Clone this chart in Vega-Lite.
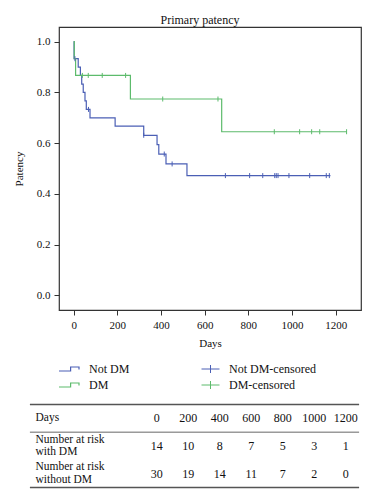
{
  "$schema": "https://vega.github.io/schema/vega-lite/v6.json",
  "padding": {"left": 12, "top": 13, "right": 0, "bottom": 0},
  "background": "white",
  "bounds": "flush",
  "spacing": 94.5,
  "config": {
    "font": "Liberation Serif",
    "view": {"stroke": null},
    "axis": {"labelFont": "Liberation Serif", "titleFont": "Liberation Serif", "labelColor": "#111", "titleColor": "#111", "titleFontWeight": "normal", "labelFontSize": 11, "titleFontSize": 11, "grid": false, "domain": false, "tickColor": "#333", "tickSize": 5},
    "legend": {"labelFont": "Liberation Serif", "labelFontSize": 12, "labelColor": "#111", "padding": 0, "offset": 0},
    "title": {"font": "Liberation Serif", "fontWeight": "normal", "fontSize": 12, "color": "#111"}
  },
  "datasets": {
    "km": [
      {"group": "Not DM", "day": 0, "surv": 1.0},
      {"group": "Not DM", "day": 2, "surv": 0.933},
      {"group": "Not DM", "day": 21, "surv": 0.9},
      {"group": "Not DM", "day": 31, "surv": 0.867},
      {"group": "Not DM", "day": 37, "surv": 0.833},
      {"group": "Not DM", "day": 44, "surv": 0.8},
      {"group": "Not DM", "day": 52, "surv": 0.767},
      {"group": "Not DM", "day": 58, "surv": 0.733},
      {"group": "Not DM", "day": 75, "surv": 0.70},
      {"group": "Not DM", "day": 190, "surv": 0.667},
      {"group": "Not DM", "day": 321, "surv": 0.631},
      {"group": "Not DM", "day": 382, "surv": 0.594},
      {"group": "Not DM", "day": 390, "surv": 0.557},
      {"group": "Not DM", "day": 423, "surv": 0.518},
      {"group": "Not DM", "day": 519, "surv": 0.472},
      {"group": "Not DM", "day": 1176, "surv": 0.472},
      {"group": "DM", "day": 0, "surv": 1.0},
      {"group": "DM", "day": 3, "surv": 0.933},
      {"group": "DM", "day": 9, "surv": 0.867},
      {"group": "DM", "day": 260, "surv": 0.774},
      {"group": "DM", "day": 678, "surv": 0.645},
      {"group": "DM", "day": 1252, "surv": 0.645}
    ],
    "cens": [
      {"cgroup": "Not DM-censored", "day": 6, "surv": 0.933},
      {"cgroup": "Not DM-censored", "day": 68, "surv": 0.733},
      {"cgroup": "Not DM-censored", "day": 321, "surv": 0.631},
      {"cgroup": "Not DM-censored", "day": 415, "surv": 0.557},
      {"cgroup": "Not DM-censored", "day": 451, "surv": 0.518},
      {"cgroup": "Not DM-censored", "day": 695, "surv": 0.472},
      {"cgroup": "Not DM-censored", "day": 806, "surv": 0.472},
      {"cgroup": "Not DM-censored", "day": 866, "surv": 0.472},
      {"cgroup": "Not DM-censored", "day": 921, "surv": 0.472},
      {"cgroup": "Not DM-censored", "day": 928, "surv": 0.472},
      {"cgroup": "Not DM-censored", "day": 936, "surv": 0.472},
      {"cgroup": "Not DM-censored", "day": 986, "surv": 0.472},
      {"cgroup": "Not DM-censored", "day": 1081, "surv": 0.472},
      {"cgroup": "Not DM-censored", "day": 1157, "surv": 0.472},
      {"cgroup": "Not DM-censored", "day": 1171, "surv": 0.472},
      {"cgroup": "DM-censored", "day": 40, "surv": 0.867},
      {"cgroup": "DM-censored", "day": 67, "surv": 0.867},
      {"cgroup": "DM-censored", "day": 131, "surv": 0.867},
      {"cgroup": "DM-censored", "day": 238, "surv": 0.867},
      {"cgroup": "DM-censored", "day": 408, "surv": 0.774},
      {"cgroup": "DM-censored", "day": 661, "surv": 0.774},
      {"cgroup": "DM-censored", "day": 919, "surv": 0.645},
      {"cgroup": "DM-censored", "day": 1035, "surv": 0.645},
      {"cgroup": "DM-censored", "day": 1090, "surv": 0.645},
      {"cgroup": "DM-censored", "day": 1127, "surv": 0.645},
      {"cgroup": "DM-censored", "day": 1250, "surv": 0.645}
    ],
    "table": [
      {"row": "Days", "day": 0, "val": "0"},
      {"row": "Days", "day": 200, "val": "200"},
      {"row": "Days", "day": 400, "val": "400"},
      {"row": "Days", "day": 600, "val": "600"},
      {"row": "Days", "day": 800, "val": "800"},
      {"row": "Days", "day": 1000, "val": "1000"},
      {"row": "Days", "day": 1200, "val": "1200"},
      {"row": "Number at risk|with DM", "day": 0, "val": "14"},
      {"row": "Number at risk|with DM", "day": 200, "val": "10"},
      {"row": "Number at risk|with DM", "day": 400, "val": "8"},
      {"row": "Number at risk|with DM", "day": 600, "val": "7"},
      {"row": "Number at risk|with DM", "day": 800, "val": "5"},
      {"row": "Number at risk|with DM", "day": 1000, "val": "3"},
      {"row": "Number at risk|with DM", "day": 1200, "val": "1"},
      {"row": "Number at risk|without DM", "day": 0, "val": "30"},
      {"row": "Number at risk|without DM", "day": 200, "val": "19"},
      {"row": "Number at risk|without DM", "day": 400, "val": "14"},
      {"row": "Number at risk|without DM", "day": 600, "val": "11"},
      {"row": "Number at risk|without DM", "day": 800, "val": "7"},
      {"row": "Number at risk|without DM", "day": 1000, "val": "2"},
      {"row": "Number at risk|without DM", "day": 1200, "val": "0"}
    ],
    "rules": [
      {"row": "Days", "kind": "top"},
      {"row": "Number at risk|with DM", "kind": "mid"},
      {"row": "Number at risk|without DM", "kind": "bottom"}
    ]
  },
  "vconcat": [
    {
      "width": 302,
      "height": 283,
      "title": {"text": "Primary patency", "offset": 0, "dx": -10},
      "view": {"stroke": "#333", "strokeWidth": 1.2},
      "layer": [
        {
          "data": {"name": "km"},
          "mark": {"type": "line", "interpolate": "step-after", "strokeWidth": 1.2},
          "encoding": {
            "x": {"field": "day", "type": "quantitative", "scale": {"domain": [-67, 1316], "nice": false, "zero": false},
                  "axis": {"values": [0, 200, 400, 600, 800, 1000, 1200], "format": "d", "title": "Days", "labelPadding": 4, "titlePadding": 7}},
            "y": {"field": "surv", "type": "quantitative", "scale": {"domain": [-0.058, 1.058], "nice": false, "zero": false},
                  "axis": {"values": [0, 0.2, 0.4, 0.6, 0.8, 1.0], "format": ".1f", "title": "Patency", "labelPadding": 4, "titlePadding": 12}},
            "stroke": {"field": "group", "type": "nominal",
                       "scale": {"domain": ["Not DM", "DM"], "range": ["#4b5fb5", "#5dbb6c"]},
                       "legend": {"orient": "none", "legendX": 4, "legendY": 336, "title": null,
                                  "symbolType": "M-2.5,0.5H0.4V-0.5H2.5V0.1", "symbolSize": 64, "symbolStrokeWidth": 1.2,
                                  "labelOffset": 14, "rowPadding": 4}}
          }
        },
        {
          "data": {"name": "cens"},
          "mark": {"type": "point", "shape": "M0,-1V1", "size": 25, "filled": false, "strokeWidth": 1, "opacity": 1},
          "encoding": {
            "x": {"field": "day", "type": "quantitative"},
            "y": {"field": "surv", "type": "quantitative"},
            "color": {"field": "cgroup", "type": "nominal",
                      "scale": {"domain": ["Not DM-censored", "DM-censored"], "range": ["#4b5fb5", "#5dbb6c"]},
                      "legend": {"orient": "none", "legendX": 145.5, "legendY": 336, "title": null,
                                 "symbolType": "M-2.25,0H2.25M0,-1V1", "symbolSize": 64, "symbolStrokeWidth": 1,
                                 "labelOffset": 12.5, "rowPadding": 4}}
          }
        }
      ]
    },
    {
      "width": 300,
      "height": 83,
      "layer": [
        {
          "data": {"name": "table"},
          "mark": {"type": "text", "fontSize": 12, "color": "#111", "align": "center", "baseline": "middle"},
          "encoding": {
            "x": {"field": "day", "type": "quantitative", "scale": {"domain": [-620.3, 1284.4], "nice": false, "zero": false}, "axis": null},
            "y": {"field": "row", "type": "nominal",
                  "scale": {"type": "band", "domain": ["Days", "Number at risk|with DM", "Number at risk|without DM"], "paddingInner": 0, "paddingOuter": 0},
                  "axis": {"title": null, "ticks": false, "tickSize": 0, "domain": false, "labelAlign": "left", "labelPadding": 24,
                           "labelFontSize": 11.5, "labelLineHeight": 12.5, "labelBaseline": "middle",
                           "labelOffset": {"condition": {"test": "datum.value === 'Days'", "value": 0}, "value": -6.25},
                           "labelExpr": "split(datum.value, '|')"}},
            "text": {"field": "val"}
          }
        },
        {
          "data": {"name": "rules"},
          "transform": [{"filter": "datum.kind === 'top'"}],
          "mark": {"type": "rule", "stroke": "#555", "strokeWidth": 1.6},
          "encoding": {
            "y": {"field": "row", "type": "nominal", "bandPosition": 0},
            "x": {"datum": -805, "type": "quantitative", "scale": {"domain": [-620.3, 1284.4], "nice": false, "zero": false}},
            "x2": {"datum": 1285}
          }
        },
        {
          "data": {"name": "rules"},
          "transform": [{"filter": "datum.kind === 'mid'"}],
          "mark": {"type": "rule", "stroke": "#666", "strokeWidth": 1},
          "encoding": {
            "y": {"field": "row", "type": "nominal", "bandPosition": 0},
            "x": {"datum": -805, "type": "quantitative", "scale": {"domain": [-620.3, 1284.4], "nice": false, "zero": false}},
            "x2": {"datum": 1285}
          }
        },
        {
          "data": {"name": "rules"},
          "transform": [{"filter": "datum.kind === 'bottom'"}],
          "mark": {"type": "rule", "stroke": "#555", "strokeWidth": 1.6},
          "encoding": {
            "y": {"field": "row", "type": "nominal", "bandPosition": 1},
            "x": {"datum": -805, "type": "quantitative", "scale": {"domain": [-620.3, 1284.4], "nice": false, "zero": false}},
            "x2": {"datum": 1285}
          }
        }
      ]
    }
  ]
}
